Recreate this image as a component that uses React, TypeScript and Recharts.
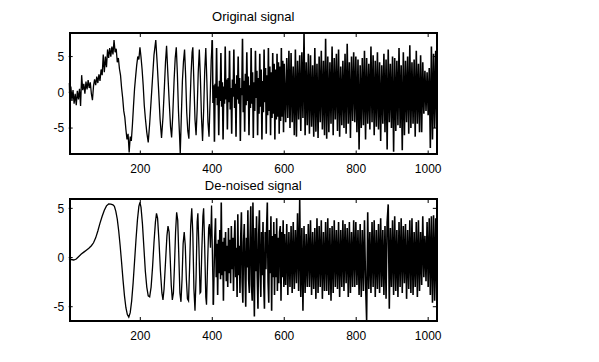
import { LineChart, Line, XAxis, YAxis } from "recharts";

// sample index / value pairs
const origRise = [
  [1, 1.3], [4, -0.5], [7, 0.8], [10, -1.2], [13, 0.3], [16, -1.6], [19, -0.2], [22, -1.8], [25, 0.2], [28, -1.0],
  [31, 0.5], [34, -1.9], [37, 2.4], [40, 0.3], [43, 1.2], [46, -0.2], [49, 1.5], [52, 0.4], [55, 1.7], [58, 0.6],
  [61, 1.4], [64, -0.2], [67, -1.1], [70, 0.9], [73, 1.8], [76, 1.0], [79, 2.2], [82, 1.3], [85, 2.5], [88, 1.6],
  [91, 3.2], [94, 2.4], [97, 5.3], [100, 2.8], [103, 5.0], [106, 3.5], [109, 6.0], [112, 4.8], [115, 6.2], [118, 5.0],
  [121, 6.4], [124, 5.3], [127, 7.3], [130, 5.6], [133, 6.1], [136, 4.2], [139, 4.8], [142, 3.3], [145, 2.4], [148, 0.6],
];

const origChirp = [
  [151, -0.8], [154, -2.6], [157, -3.5], [160, -5.2], [163, -6.6], [166, -5.8], [169, -8.4], [172, -6.2], [175, -6.8],
  [178, -4.6], [181, -2.0], [184, 0.5], [187, 2.2], [190, 3.8], [193, 5.0], [196, 4.6], [199, 6.3], [202, 4.9],
  [205, 3.2], [208, 1.0], [211, -1.8], [214, -3.6], [218, -5.6], [222, -7.0], [226, -4.4], [230, -1.2], [234, 2.0],
  [238, 5.2], [243, 7.3], [247, 4.0], [251, 0.2], [255, -3.8], [259, -6.4], [263, -3.5], [267, 0.8], [270, 4.2],
  [273, 6.5], [276, 3.2], [280, -1.0], [284, -4.8], [287, -6.3], [290, -3.4], [294, 1.8], [297, 4.8], [300, 6.3],
  [303, 2.6], [306, -2.5], [309, -6.0], [311, -8.6], [314, -3.4], [317, 1.6], [320, 4.3], [323, 6.0], [326, 2.3],
  [329, -2.8], [332, -5.4], [335, -6.5], [338, -2.0], [341, 2.5], [344, 5.6], [346, 6.3], [349, 1.2], [352, -3.8],
  [355, -6.0], [358, -2.4], [361, 2.8], [364, 6.0], [367, 2.0], [370, -3.5], [373, -6.8], [376, -2.6], [379, 3.0],
  [382, 6.2], [385, 1.5], [388, -4.2], [391, -6.2], [394, -1.0], [397, 4.5], [400, 7.3],
];

const origBand = [
  [402, -1.5], [404, 1.0], [406, -6.9], [408, 1.2], [410, -0.8], [412, 6.2], [414, -1.8], [416, 0.8], [418, -6.0],
  [420, 1.6], [422, -1.2], [424, 5.5], [426, -2.0], [428, 1.4], [430, -6.6], [432, 0.8], [434, -1.6], [436, 6.4],
  [438, -1.0], [440, 1.8], [442, -5.2], [444, 2.0], [446, -1.4], [448, 5.8], [450, -2.4], [452, 0.6], [454, -5.8],
  [456, 1.8], [458, -0.6], [460, 6.0], [462, -2.2], [464, 1.2], [466, -6.2], [468, 2.4], [470, -1.0], [472, 5.0],
  [474, -1.6], [476, 2.0], [478, -6.8], [480, 0.6], [482, -0.4], [484, 7.5], [486, -2.8], [488, 1.6], [490, -5.5],
  [492, 2.6], [494, -1.8], [496, 5.6], [498, -1.2], [500, 2.2], [502, -6.0], [504, 1.0], [506, -2.2], [508, 6.2],
  [510, -1.6], [512, 2.8], [514, -6.4], [516, 1.4], [518, -2.6], [520, 5.8], [522, -0.8], [524, 3.0], [526, -6.0],
  [528, 2.0], [530, -3.0], [532, 5.4], [534, -2.0], [536, 3.2], [538, -6.6], [540, 1.6], [542, -2.8], [544, 6.0],
  [546, -1.4], [548, 3.4], [550, -5.8], [552, 2.4], [554, -3.2], [556, 6.2], [558, -2.6], [560, 3.6], [562, -6.0],
  [564, 2.8], [566, -3.6], [568, 5.5], [570, -3.0], [572, 4.0], [574, -6.6], [576, 3.2], [578, -3.8], [580, 5.4],
  [582, -3.4], [584, 4.2], [586, -5.8], [588, 3.6], [590, -4.0], [592, 6.2], [594, -3.4], [596, 4.4], [598, -5.6],
  [600, 4.0],
];

const origDense = [
  [604, -4.2], [607, 4.8], [610, -3.6], [613, 5.8], [616, -5.0], [619, 5.5], [622, -4.2], [625, 3.6], [628, -6.0],
  [631, 6.0], [634, -6.2], [637, 4.4], [640, -3.8], [643, 5.2], [646, -5.4], [649, 5.6], [652, -3.6], [655, 8.3],
  [658, -6.0], [661, 4.2], [664, -4.6], [667, 5.4], [670, -5.8], [673, 5.2], [676, -4.8], [679, 3.8], [682, -6.2],
  [685, 6.2], [688, -5.5], [691, 4.0], [694, -6.4], [697, 5.0], [700, -4.2], [703, 5.8], [706, -5.2], [709, 4.4],
  [712, -6.0], [715, 7.5], [718, -6.5], [721, 5.0], [724, -5.6], [727, 4.2], [730, -4.4], [733, 6.4], [736, -6.0],
  [739, 4.8], [742, -3.8], [745, 5.4], [748, -5.4], [751, 6.0], [754, -6.2], [757, 3.6], [760, -4.6], [763, 4.4],
  [766, -5.0], [769, 5.4], [772, -5.8], [775, 6.8], [778, -4.4], [781, 4.2], [784, -6.4], [787, 5.0], [790, -4.0],
  [793, 5.6], [796, -4.2], [799, 5.0], [802, -5.6], [805, 4.6], [808, -8.0], [811, 3.8], [814, -5.0], [817, 4.8],
  [820, -4.6], [823, 5.8], [826, -6.6], [829, 4.8], [832, -4.4], [835, 4.0], [838, -5.2], [841, 6.4], [844, -4.2],
  [847, 5.2], [850, -6.0], [853, 4.4], [856, -4.8], [859, 5.6], [862, -5.2], [865, 4.2], [868, -6.8], [871, 3.8],
  [874, -4.4], [877, 5.4], [880, -5.6], [883, 4.6], [886, -8.0], [889, 6.0], [892, -4.2], [895, 4.0], [898, -5.0],
  [901, 5.0], [904, -8.3], [907, 4.8], [910, -5.4], [913, 4.4], [916, -4.6], [919, 6.2], [922, -5.0], [925, 3.8],
  [928, -8.1], [931, 5.6], [934, -6.0], [937, 4.4], [940, -4.2], [943, 5.0], [946, -5.8], [949, 6.6], [952, -5.0],
  [955, 4.2], [958, -4.4], [961, 4.6], [964, -6.2], [967, 5.8], [970, -4.4], [973, 4.0], [976, -5.6], [979, 5.2],
  [982, -5.6], [985, 4.2], [988, -3.0], [991, 3.0], [994, -2.6], [997, 2.8], [1000, -3.2], [1003, 3.4], [1006, -7.8],
  [1009, 6.4], [1012, -6.6], [1015, 5.4], [1018, -5.0], [1021, 5.8], [1024, -5.0],
];

const denSmooth = [
  [1, -0.15], [8, -0.2], [15, -0.25], [22, -0.15], [29, 0.1], [36, 0.35], [43, 0.55], [50, 0.75], [57, 0.95],
  [64, 1.2], [70, 1.5], [76, 2.0], [82, 2.7], [88, 3.5], [94, 4.2], [100, 4.8], [106, 5.25], [112, 5.45], [118, 5.42],
  [124, 5.35], [128, 5.2], [132, 4.7], [136, 3.9], [140, 2.7], [144, 1.2], [148, -0.5], [152, -2.3], [156, -3.9],
  [160, -5.1], [164, -5.8], [168, -6.05], [172, -5.6], [176, -4.4], [180, -2.6], [184, -0.4], [188, 1.8], [192, 3.8],
  [196, 5.2], [199, 5.6],
];

const denChirp = [
  [202, 5.1], [206, 3.4], [210, 1.0], [214, -1.4], [218, -3.0], [222, -3.9], [226, -4.0], [230, -3.0], [234, -1.0],
  [238, 1.5], [242, 3.6], [245, 4.5], [248, 4.0], [252, 1.6], [256, -1.4], [260, -3.6], [263, -4.3], [266, -3.2],
  [270, -0.5], [274, 2.2], [277, 3.2], [280, 2.6], [283, 0.0], [286, -2.8], [289, -4.3], [292, -3.6], [295, -0.8],
  [298, 2.6], [301, 4.6], [304, 3.8], [307, 0.2], [310, -3.6], [313, -4.5], [316, -2.2], [319, 1.4], [322, 2.6],
  [325, 1.2], [328, -2.2], [331, -4.2], [334, -4.4], [337, -1.0], [340, 3.2], [343, 5.0], [346, 2.4], [349, -3.2],
  [352, -5.4], [355, -2.0], [358, 3.6], [360, 4.5], [363, 1.0], [366, -3.6], [368, -3.5], [371, 0.8], [374, 4.2],
  [376, 5.0], [379, 1.0], [382, -4.0], [384, -4.8], [387, -0.6], [390, 3.0], [392, 3.4], [395, 1.0], [398, 5.3],
  [401, -1.0], [403, -4.8],
];

const denBand = [
  [405, -1.0], [407, 2.0], [409, 4.0], [411, -2.0], [413, 1.4], [415, -3.8], [417, 1.8], [419, -1.6], [421, 2.8],
  [423, -2.2], [425, 5.6], [427, -1.8], [429, 1.6], [431, -4.4], [433, 2.0], [435, -1.4], [437, 2.6], [439, -2.4],
  [441, 1.2], [443, -3.0], [445, 3.0], [447, -1.6], [449, 1.8], [451, -2.6], [453, 3.2], [455, -1.2], [457, 2.0],
  [459, -3.4], [461, 1.4], [463, 3.8], [465, -2.0], [467, 1.0], [469, -4.0], [471, 4.4], [473, -1.8], [475, 1.2],
  [477, -3.6], [479, 2.0], [481, 4.6], [483, -2.4], [485, -4.6], [487, 1.6], [489, 3.4], [491, -1.6], [493, -5.0],
  [495, 2.0], [497, -1.0], [499, 4.8], [501, -2.2], [503, -3.6], [505, 1.8], [507, 5.2], [509, -2.8], [511, -4.4],
  [513, 5.6], [515, -1.0], [517, -6.0], [519, 3.0], [521, -1.4], [523, 4.2], [525, -2.0], [527, -5.2], [529, 2.4],
  [531, 4.8], [533, -1.4], [535, -4.0], [537, 2.6], [539, -1.8], [541, 3.6], [543, -2.6], [545, -5.2], [547, 2.6],
  [549, -1.2], [551, 3.0], [553, 5.6], [555, -2.4], [557, -4.6], [559, 2.8], [561, -1.6], [563, 4.2], [565, -5.4],
  [567, 2.2], [569, -2.0], [571, 3.6], [573, -3.8], [575, 2.4], [577, -2.0], [579, 4.0], [581, -3.4], [583, 2.0],
  [585, -2.6], [587, 2.6], [589, 3.2], [591, -4.4], [593, 2.6], [595, -2.0], [597, 3.8], [599, -3.0], [601, 2.4],
];

const denDense = [
  [604, -2.8], [607, 3.4], [610, -3.8], [613, 2.6], [616, -3.0], [619, 3.2], [622, -3.6], [625, 3.6], [628, -3.2],
  [631, 2.8], [634, -2.6], [637, 4.5], [640, -3.4], [643, 5.9], [646, -4.0], [649, 3.0], [652, -5.4], [655, 3.2],
  [658, -3.6], [661, 2.4], [664, -3.0], [667, 3.4], [670, -3.0], [673, 3.8], [676, -3.8], [679, 2.6], [682, -3.2],
  [685, 3.0], [688, -4.2], [691, 4.0], [694, -3.6], [697, 3.2], [700, -3.0], [703, 3.8], [706, -4.2], [709, 2.6],
  [712, -3.4], [715, 3.6], [718, -3.4], [721, 4.0], [724, -3.8], [727, 3.0], [730, -4.4], [733, 3.2], [736, -3.6],
  [739, 3.8], [742, -3.0], [745, 2.8], [748, -3.2], [751, 3.6], [754, -4.0], [757, 2.8], [760, -3.0], [763, 3.8],
  [766, -3.4], [769, 3.4], [772, -2.6], [775, 3.0], [778, -4.0], [781, 3.6], [784, -3.6], [787, 2.6], [790, -3.0],
  [793, 3.8], [796, -3.0], [799, 3.6], [802, -2.8], [805, 2.8], [808, -3.8], [811, 3.4], [814, -4.0], [817, 2.8],
  [820, -3.4], [823, 3.8], [826, -2.6], [829, -6.4], [832, 4.6], [835, -3.2], [838, 2.6], [841, -3.6], [844, 3.6],
  [847, -3.0], [850, 3.8], [853, -4.0], [856, 2.8], [859, -3.2], [862, 3.4], [865, -3.6], [868, 4.0], [871, -3.0],
  [874, 2.8], [877, -3.8], [880, 3.2], [883, -4.2], [886, 3.6], [889, 5.4], [892, -5.2], [895, 3.0], [898, -3.0],
  [901, 3.8], [904, -3.8], [907, 4.2], [910, -3.4], [913, 2.8], [916, -4.0], [919, 3.6], [922, -3.0], [925, 4.0],
  [928, -3.6], [931, 3.2], [934, -2.6], [937, 3.4], [940, -4.2], [943, 2.8], [946, -3.2], [949, 3.8], [952, -3.6],
  [955, 4.0], [958, -3.8], [961, 2.6], [964, -3.0], [967, 3.6], [970, -4.0], [973, 3.8], [976, -3.4], [979, 2.6],
  [982, -2.8], [985, 4.2], [988, -2.0], [991, 2.2], [994, -2.4], [997, 3.6], [1000, -3.0], [1003, 4.0], [1006, -3.8],
  [1009, 4.2], [1012, -4.6], [1015, 4.3], [1018, -4.4], [1021, 4.0], [1024, -4.6],
];

const xTicks = [200, 400, 600, 800, 1000];
const yTicks = [-5, 0, 5];

type Row = { n: number; a?: number; b?: number };

// "a" = slow part (thin line), "b" = dense part (heavier line); they share the joining sample
const toRows = (head: number[][], tail: number[][]): Row[] => {
  const rows: Row[] = head.map(([n, v]) => ({ n, a: v }));
  rows[rows.length - 1].b = rows[rows.length - 1].a;
  return rows.concat(tail.map(([n, v]) => ({ n, b: v })));
};

const originalData = toRows([...origRise, ...origChirp], [...origBand, ...origDense]);
const denoisedData = toRows([...denSmooth, ...denChirp], [...denBand, ...denDense]);

const FONT = '"Liberation Sans", Arial, Helvetica, sans-serif';
const tickStyle = { fill: "#000", fontSize: 12, fontFamily: FONT };
const noLabel = () => <g />;

function SignalPanel({
  data,
  yDomain,
  plotHeight,
}: {
  data: Row[];
  yDomain: [number, number];
  plotHeight: number;
}) {
  return (
    <LineChart
      width={599}
      height={1 + plotHeight + 40}
      data={data}
      margin={{ top: 0, right: 161.2, bottom: 0, left: 38.7 }}
    >
      <XAxis
        dataKey="n"
        type="number"
        domain={[1, 1024]}
        ticks={xTicks}
        allowDataOverflow
        height={40}
        tickSize={-4}
        tickMargin={14}
        axisLine={false}
        tickLine={{ stroke: "#000", strokeWidth: 1 }}
        tick={tickStyle}
      />
      <XAxis
        xAxisId="top"
        orientation="top"
        dataKey="n"
        type="number"
        domain={[1, 1024]}
        ticks={xTicks}
        allowDataOverflow
        height={1}
        tickSize={-4}
        axisLine={false}
        tickLine={{ stroke: "#000", strokeWidth: 1 }}
        tick={noLabel}
      />
      <YAxis
        type="number"
        domain={yDomain}
        ticks={yTicks}
        allowDataOverflow
        width={30}
        tickSize={-4}
        tickMargin={8.5}
        axisLine={false}
        tickLine={{ stroke: "#000", strokeWidth: 1 }}
        tick={tickStyle}
      />
      <YAxis
        yAxisId="right"
        orientation="right"
        type="number"
        domain={yDomain}
        ticks={yTicks}
        allowDataOverflow
        width={1}
        tickSize={-4}
        axisLine={false}
        tickLine={{ stroke: "#000", strokeWidth: 1 }}
        tick={noLabel}
      />
      <Line
        type="linear"
        dataKey="a"
        stroke="#000"
        strokeWidth={1.3}
        dot={false}
        isAnimationActive={false}
      />
      <Line
        type="linear"
        dataKey="b"
        stroke="#000"
        strokeWidth={1.6}
        dot={false}
        isAnimationActive={false}
      />
    </LineChart>
  );
}

const titleStyle = {
  position: "absolute" as const,
  left: 69,
  width: 368.5,
  textAlign: "center" as const,
  fontFamily: FONT,
  fontSize: 13,
  lineHeight: "15px",
  color: "#000",
  whiteSpace: "nowrap" as const,
};

const frameStyle = {
  position: "absolute" as const,
  left: 69,
  width: 369,
  border: "2px solid #000",
  boxSizing: "border-box" as const,
  pointerEvents: "none" as const,
};

export default function App() {
  return (
    <div style={{ position: "absolute", left: 0, top: 0, width: 599, height: 362, background: "#fff", overflow: "hidden" }}>
      <div style={{ ...titleStyle, top: 9 }}>Original signal</div>
      <div style={{ position: "absolute", left: 0, top: 32 }}>
        <SignalPanel data={originalData} yDomain={[-8.7, 8.3]} plotHeight={121.5} />
      </div>
      <div style={{ ...frameStyle, top: 32, height: 123 }} />
      <div style={{ ...titleStyle, top: 177.5 }}>De-noised signal</div>
      <div style={{ position: "absolute", left: 0, top: 198 }}>
        <SignalPanel data={denoisedData} yDomain={[-6.45, 5.95]} plotHeight={122} />
      </div>
      <div style={{ ...frameStyle, top: 198, height: 124 }} />
    </div>
  );
}
